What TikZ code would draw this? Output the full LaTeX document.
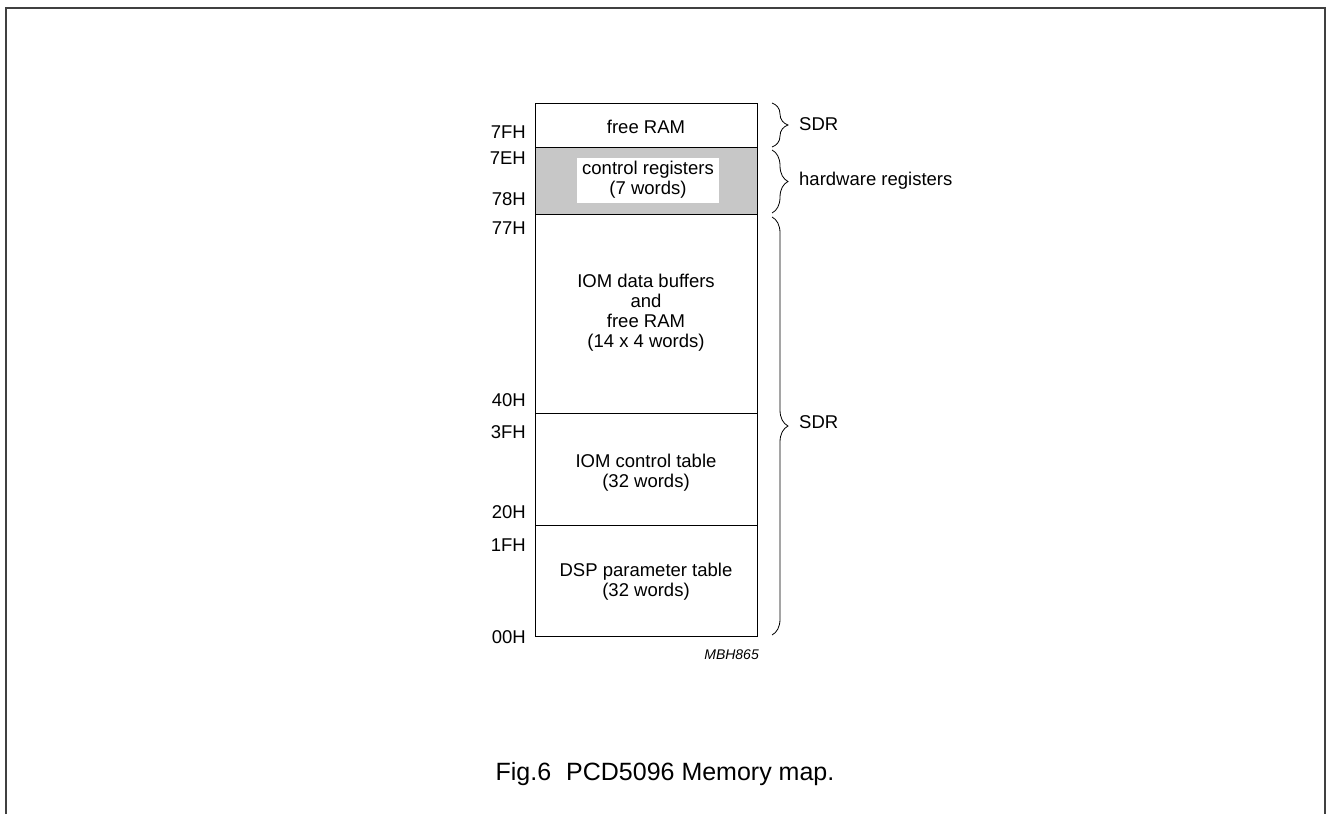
\documentclass[tikz,border=0pt]{standalone}
\usepackage{fontspec}
\setmainfont{Liberation Sans}
\usetikzlibrary{decorations.pathreplacing}
\begin{document}
\begin{tikzpicture}[x=1pt,y=-1pt,
  addr/.style={anchor=east,font=\fontsize{18.5}{20}\selectfont,inner sep=0pt},
  blk/.style={align=center,font=\fontsize{18.5}{20}\selectfont,inner sep=0pt},
  side/.style={anchor=west,font=\fontsize{18.5}{20}\selectfont,inner sep=0pt},
  brc/.style={decorate,decoration={brace,amplitude=16pt},line width=0.8pt},
  line/.style={line width=0.9pt}]
\useasboundingbox (0,0) rectangle (1327,814);
% frame
\draw[line width=1.4pt,black!75] (6,814) -- (6,8) -- (1325,8) -- (1325,814);
% blocks
\fill[black!22] (535,147) rectangle (757,214);
\fill[white] (577,158) rectangle (719,203);
\draw[line] (535,103) rectangle (757,636);
\draw[line] (535,147) -- (757,147);
\draw[line] (535,214) -- (757,214);
\draw[line width=0.6pt] (535,413) -- (757,413);
\draw[line width=0.6pt] (535,525) -- (757,525);
\node[blk] (freeram) at (646,127) {free RAM};
\node[blk] (ctrl) at (648,180) {control registers\\(7 words)};
\node[blk] (iom) at (646,313) {IOM data buffers\\and\\free RAM\\(14 x 4 words)};
\node[blk] (iomc) at (646,473) {IOM control table\\(32 words)};
\node[blk] (dsp) at (646,582) {DSP parameter table\\(32 words)};
% addresses
\node[addr] (a7f) at (526,132) {7FH};
\node[addr] (a7e) at (526,158) {7EH};
\node[addr] (a78) at (526,199) {78H};
\node[addr] (a77) at (526,228) {77H};
\node[addr] (a40) at (526,400) {40H};
\node[addr] (a3f) at (526,432) {3FH};
\node[addr] (a20) at (526,512) {20H};
\node[addr] (a1f) at (526,545) {1FH};
\node[addr] (a00) at (526,637) {00H};
% braces
\coordinate (b1t) at (772,103); \coordinate (b1b) at (772,147);
\coordinate (b2t) at (772,150); \coordinate (b2b) at (772,213);
\coordinate (b3t) at (772,217); \coordinate (b3b) at (772,635);
\draw[brc] (b1t) -- (b1b);
\draw[brc] (b2t) -- (b2b);
\draw[brc] (b3t) -- (b3b);
\node[side] (sdr1) at (799,124) {SDR};
\node[side] (hw) at (799,181) {hardware registers};
\node[side] (sdr2) at (799,422) {SDR};
\node[font=\fontsize{14}{16}\selectfont\itshape,inner sep=0pt,anchor=base east] (mbh) at (759,659) {MBH865};
\node[font=\fontsize{25}{28}\selectfont,inner sep=0pt,anchor=base] (cap) at (665,780) {Fig.6\hspace{0.6em}PCD5096 Memory map.};
\end{tikzpicture}
\end{document}
